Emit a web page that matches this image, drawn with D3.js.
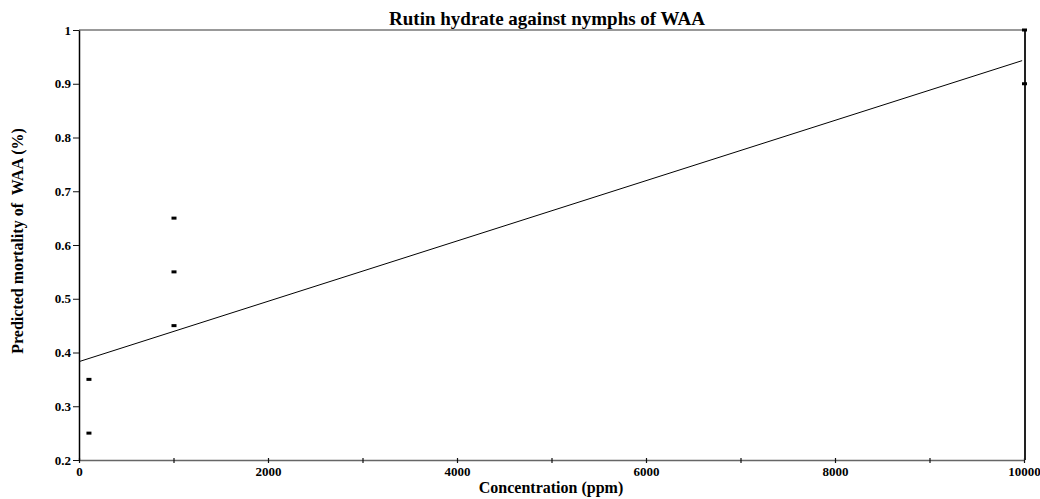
<!DOCTYPE html>
<html><head><meta charset="utf-8">
<script src="https://cdn.jsdelivr.net/npm/d3@7"></script>
<style>body{margin:0;background:#fff}svg{display:block}text{font-family:"Liberation Serif","Times New Roman",serif;font-weight:bold}</style>
</head><body><svg id="c" width="1040" height="499"></svg>
<script>
const title = "Rutin hydrate against nymphs of WAA";
const xLabel = "Concentration (ppm)";
const yLabel = "Predicted mortality of  WAA (%)";
const obsConc = [100, 100, 1000, 1000, 1000, 10000, 10000];
const obsMort = [0.25, 0.35, 0.45, 0.55, 0.65, 0.9, 1.0];
const fitConc = [0, 9980];
const fitMort = [0.383, 0.943];
const xTicks = [0, 1000, 2000, 3000, 4000, 5000, 6000, 7000, 8000, 9000, 10000];
const xTickLabels = ["0", "", "2000", "", "4000", "", "6000", "", "8000", "", "10000"];
const yTicks = [0.2, 0.3, 0.4, 0.5, 0.6, 0.7, 0.8, 0.9, 1];
const yTickLabels = ["0.2", "0.3", "0.4", "0.5", "0.6", "0.7", "0.8", "0.9", "1"];

const svg = d3.select("#c");
const L = 79, R = 1024, T = 30, B = 460;
const x = d3.scaleLinear().domain([0, 10000]).range([L, R]);
const y = d3.scaleLinear().domain([0.2, 1]).range([B, T]);

// top border
svg.append("line").attr("x1", L).attr("x2", R + 1).attr("y1", T).attr("y2", T)
  .attr("stroke", "#777").attr("stroke-width", 1.5);

// x axis
const xa = svg.append("g").attr("transform", `translate(0,${B})`)
  .call(d3.axisBottom(x).tickValues(xTicks).tickSize(3).tickSizeOuter(0)
    .tickFormat((d, i) => xTickLabels[i]));
xa.select(".domain").attr("stroke", "#666").attr("stroke-width", 1.5);
xa.selectAll(".tick line").attr("y1", -2).attr("y2", 3).attr("stroke", "#111").attr("stroke-width", 1.2);
xa.selectAll(".tick text").attr("y", 7).style("font-size", "13px").attr("fill", "#000");

// y axis
const ya = svg.append("g").attr("transform", `translate(${L},0)`)
  .call(d3.axisLeft(y).tickValues(yTicks).tickSize(6).tickSizeOuter(0)
    .tickFormat((d, i) => yTickLabels[i]));
ya.select(".domain").attr("stroke", "#000").attr("stroke-width", 1.5);
ya.selectAll(".tick line").attr("stroke", "#111").attr("stroke-width", 1);
ya.selectAll(".tick text").attr("x", -8).style("font-size", "13px").attr("fill", "#000");

// right border
svg.append("line").attr("x1", x(10000) + 1).attr("x2", x(10000) + 1).attr("y1", T).attr("y2", B)
  .attr("stroke", "#222").attr("stroke-width", 2);

// fitted line
const fit = fitConc.map((c, i) => [c, fitMort[i]]);
svg.append("path").datum(fit)
  .attr("d", d3.line().x(d => x(d[0])).y(d => y(d[1])))
  .attr("fill", "none").attr("stroke", "#000").attr("stroke-width", 1);

// observed points
svg.selectAll("rect.pt").data(obsConc.map((c, i) => [c, obsMort[i]])).enter()
  .append("rect").attr("class", "pt")
  .attr("x", d => x(d[0]) - 2).attr("y", d => y(d[1]) - 1.5)
  .attr("width", 5).attr("height", 3).attr("fill", "#000");

// titles
svg.append("text").attr("x", 547).attr("y", 25).attr("text-anchor", "middle")
  .style("font-size", "19px").text(title);
svg.append("text").attr("x", 551).attr("y", 493).attr("text-anchor", "middle")
  .style("font-size", "16px").text(xLabel);
svg.append("text").attr("transform", "translate(23,241) rotate(-90)").attr("text-anchor", "middle")
  .style("font-size", "16px").style("white-space", "pre").text(yLabel);
</script></body></html>
